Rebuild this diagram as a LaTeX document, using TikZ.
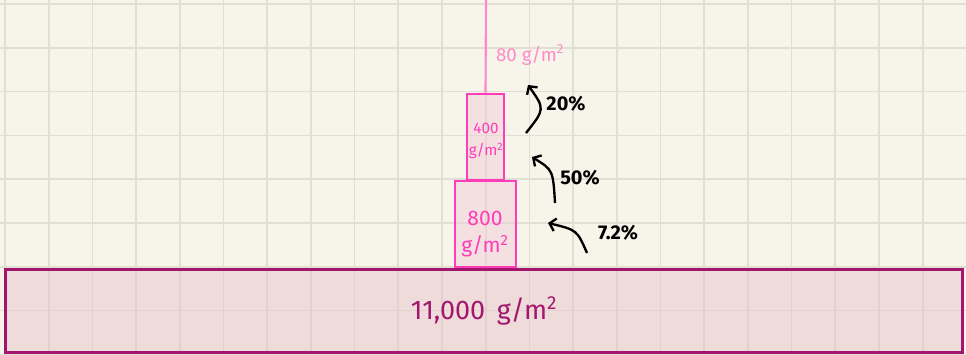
\documentclass[tikz,border=0pt]{standalone}
\usepackage{fontspec}
\setmainfont{Fira Sans}
\usetikzlibrary{arrows.meta}
\definecolor{paper}{HTML}{F7F5EA}
\definecolor{gridln}{HTML}{E1DFD4}
\definecolor{soilfill}{HTML}{E6C3CC}
\definecolor{soilline}{HTML}{A3166E}
\definecolor{boxfill}{HTML}{F2CBD9}
\definecolor{boxline}{HTML}{FF3DB8}
\definecolor{topline}{HTML}{FF8AC9}
\tikzset{%
  level/.style={draw=boxline, line width=2.4pt, fill=boxfill, fill opacity=0.5,
                text opacity=1, inner sep=0pt},
  boxtext/.style={text=boxline, align=center, inner sep=0pt},
  flow/.style={line width=2pt, -{Straight Barb[length=5pt, width=11pt, line width=2pt]}},
  pct/.style={font=\fontsize{17}{19}\selectfont\bfseries, inner sep=0pt},
}

\begin{document}
\begin{tikzpicture}[x=0.03cm, y=-0.03cm]

% paper and squares
\fill[paper] (0,0) rectangle (966,354);
\useasboundingbox (0,0) rectangle (966,354);
\foreach \k in {0,...,22}
  \draw[gridln, line width=1.5pt] (5+43.7*\k,0) -- (5+43.7*\k,354);
\foreach \k in {0,...,8}
  \draw[gridln, line width=1.5pt] (0,4+43.8*\k) -- (966,4+43.8*\k);

% soil
\node[draw=soilline, line width=2.6pt, fill=soilfill, fill opacity=0.5, text opacity=1,
      minimum width=28.7cm, minimum height=2.49cm, inner sep=0pt,
      text=soilline, font=\fontsize{23}{25}\selectfont] (soil) at (484,311)
      {11,000 \,g/m\textsuperscript{2}};

% plants and consumers
\node[level, minimum width=1.83cm, minimum height=2.58cm] (plants) at (485.5,224) {};
\node[boxtext, font=\fontsize{18}{23}\selectfont] (plantstext) at (485,234) {800\\g/m\textsuperscript{2}};
\node[level, minimum width=1.11cm, minimum height=2.58cm] (herbiv) at (485.5,137) {};
\node[boxtext, font=\fontsize{13}{19}\selectfont] (herbivtext) at (486,141) {400\\g/m\textsuperscript{2}};

% top level
\coordinate (top) at (486,0);
\draw[topline, line width=1.8pt] (top) -- (herbiv.north);
\node[text=topline, font=\fontsize{16}{18}\selectfont, inner sep=0pt] (carniv) at (530,55) {80 g/m\textsuperscript{2}};

% transfer arrows
\coordinate (t1) at (587,253); \coordinate (h1) at (548,223);
\coordinate (t2) at (555,203); \coordinate (h2) at (532,157);
\coordinate (t3) at (526,133); \coordinate (h3) at (528,85);
\draw[flow] (t1) .. controls (577,230) .. (h1);
\draw[flow] (t2) .. controls (553,170) .. (h2);
\draw[flow] (t3) .. controls (545,109) .. (h3);
\node[pct] (p1) at (618,233) {7.2\%};
\node[pct] (p2) at (580,178) {50\%};
\node[pct] (p3) at (566,104) {20\%};

\end{tikzpicture}
\end{document}
